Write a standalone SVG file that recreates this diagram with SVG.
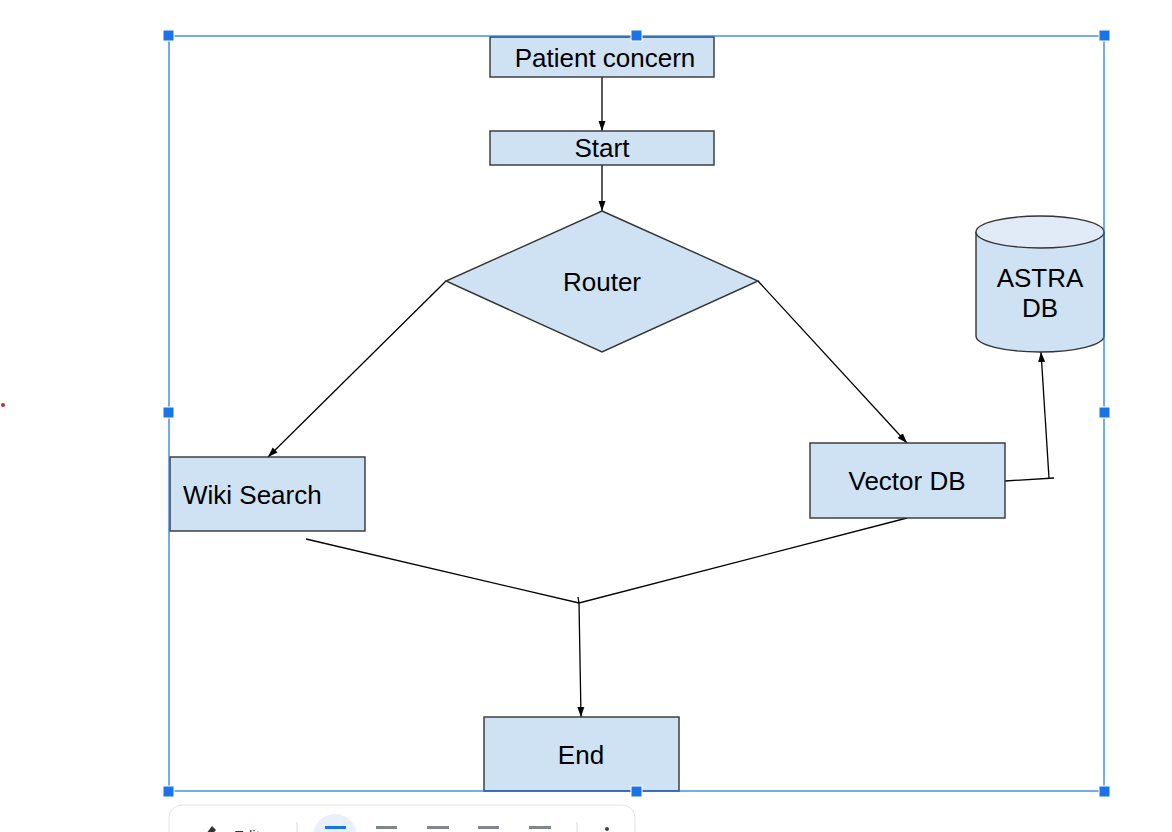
<svg xmlns="http://www.w3.org/2000/svg" width="1172" height="832" viewBox="0 0 1172 832">
<style>
.box{fill:#cfe2f3;stroke:#333;stroke-width:1.4}
.lbl{font-family:"Liberation Sans",Arial,sans-serif;font-size:26px;fill:#000}
.c{text-anchor:middle}
.conn{fill:none;stroke:#000;stroke-width:1.3}
.sel{fill:none;stroke:#1a73e8;stroke-width:1.2}
.h{fill:#1a73e8;stroke:#fff;stroke-width:1}
.tb{fill:#80868b}
</style>
<defs>
<marker id="ah" markerUnits="userSpaceOnUse" markerWidth="10" markerHeight="10" viewBox="0 0 10 10" refX="10" refY="5" orient="auto">
<path d="M0,1.5 L10,5 L0,8.5 Z" fill="#000"/>
</marker>
</defs>
<rect width="1172" height="832" fill="#fff"/>
<circle cx="3" cy="405" r="2" fill="#e02020"/>

<g id="connectors">
<line class="conn" x1="602" y1="77" x2="602" y2="131" marker-end="url(#ah)"/>
<line class="conn" x1="602" y1="165" x2="602" y2="211" marker-end="url(#ah)"/>
<line class="conn" x1="446" y1="281" x2="268" y2="457" marker-end="url(#ah)"/>
<line class="conn" x1="758" y1="281" x2="907" y2="443" marker-end="url(#ah)"/>
<polyline class="conn" points="1005,481 1054,478"/>
<line class="conn" x1="1049" y1="478" x2="1041" y2="352" marker-end="url(#ah)"/>
<polyline class="conn" points="306,539 579,603 907,518"/>
<line class="conn" x1="578" y1="597" x2="579" y2="603"/>
<line class="conn" x1="579" y1="603" x2="581" y2="717" marker-end="url(#ah)"/>
</g>

<g id="patient-concern">
<rect class="box" x="490" y="37" width="224" height="40"/>
<text class="lbl c" x="605" y="67">Patient concern</text>
</g>
<g id="start">
<rect class="box" x="490" y="131" width="224" height="34"/>
<text class="lbl c" x="602" y="157">Start</text>
</g>
<g id="router">
<polygon class="box" points="602,211 758,281 602,352 446,281"/>
<text class="lbl c" x="602" y="291">Router</text>
</g>
<g id="wiki-search">
<rect class="box" x="170" y="457" width="195" height="74"/>
<text class="lbl" x="183" y="504">Wiki Search</text>
</g>
<g id="vector-db">
<rect class="box" x="810" y="443" width="195" height="75"/>
<text class="lbl c" x="907" y="490">Vector DB</text>
</g>
<g id="astra-db">
<path class="box" d="M976,232 L976,336 A64,16 0 0 0 1104,336 L1104,232"/>
<ellipse cx="1040" cy="232" rx="64" ry="16" fill="#e0ebf7" stroke="#333" stroke-width="1.4"/>
<text class="lbl c" x="1040" y="287">ASTRA</text>
<text class="lbl c" x="1040" y="317">DB</text>
</g>
<g id="end">
<rect class="box" x="484" y="717" width="195" height="74"/>
<text class="lbl c" x="581" y="764">End</text>
</g>

<g id="selection">
<rect class="sel" x="169" y="36" width="935" height="755"/>
<rect class="h" x="163" y="30" width="11" height="11"/>
<rect class="h" x="631" y="30" width="11" height="11"/>
<rect class="h" x="1099" y="30" width="11" height="11"/>
<rect class="h" x="163" y="407" width="11" height="11"/>
<rect class="h" x="1099" y="407" width="11" height="11"/>
<rect class="h" x="163" y="786" width="11" height="11"/>
<rect class="h" x="631" y="786" width="11" height="11"/>
<rect class="h" x="1099" y="786" width="11" height="11"/>
</g>

<g id="toolbar">
<rect x="169" y="805" width="466" height="50" rx="13" fill="#fff" stroke="#e3e3e3" stroke-width="1"/>
<path d="M203,838 L212,826 L216,830 L207,840 Z" fill="#333"/>
<text x="234" y="841" font-family="'Liberation Sans',Arial,sans-serif" font-size="15" fill="#333">Edit</text>
<line x1="297" y1="822" x2="297" y2="840" stroke="#dadce0" stroke-width="1"/>
<circle cx="335" cy="836" r="22" fill="#e8f0fe"/>
<rect x="325" y="826" width="21" height="3" fill="#1a73e8"/>
<rect class="tb" x="376" y="826" width="21" height="3"/>
<rect class="tb" x="427" y="826" width="22" height="3"/>
<rect class="tb" x="478" y="826" width="21" height="3"/>
<rect class="tb" x="529" y="826" width="22" height="3"/>
<line x1="577" y1="822" x2="577" y2="840" stroke="#dadce0" stroke-width="1"/>
<circle cx="607" cy="829" r="2" fill="#444"/>
</g>
</svg>
